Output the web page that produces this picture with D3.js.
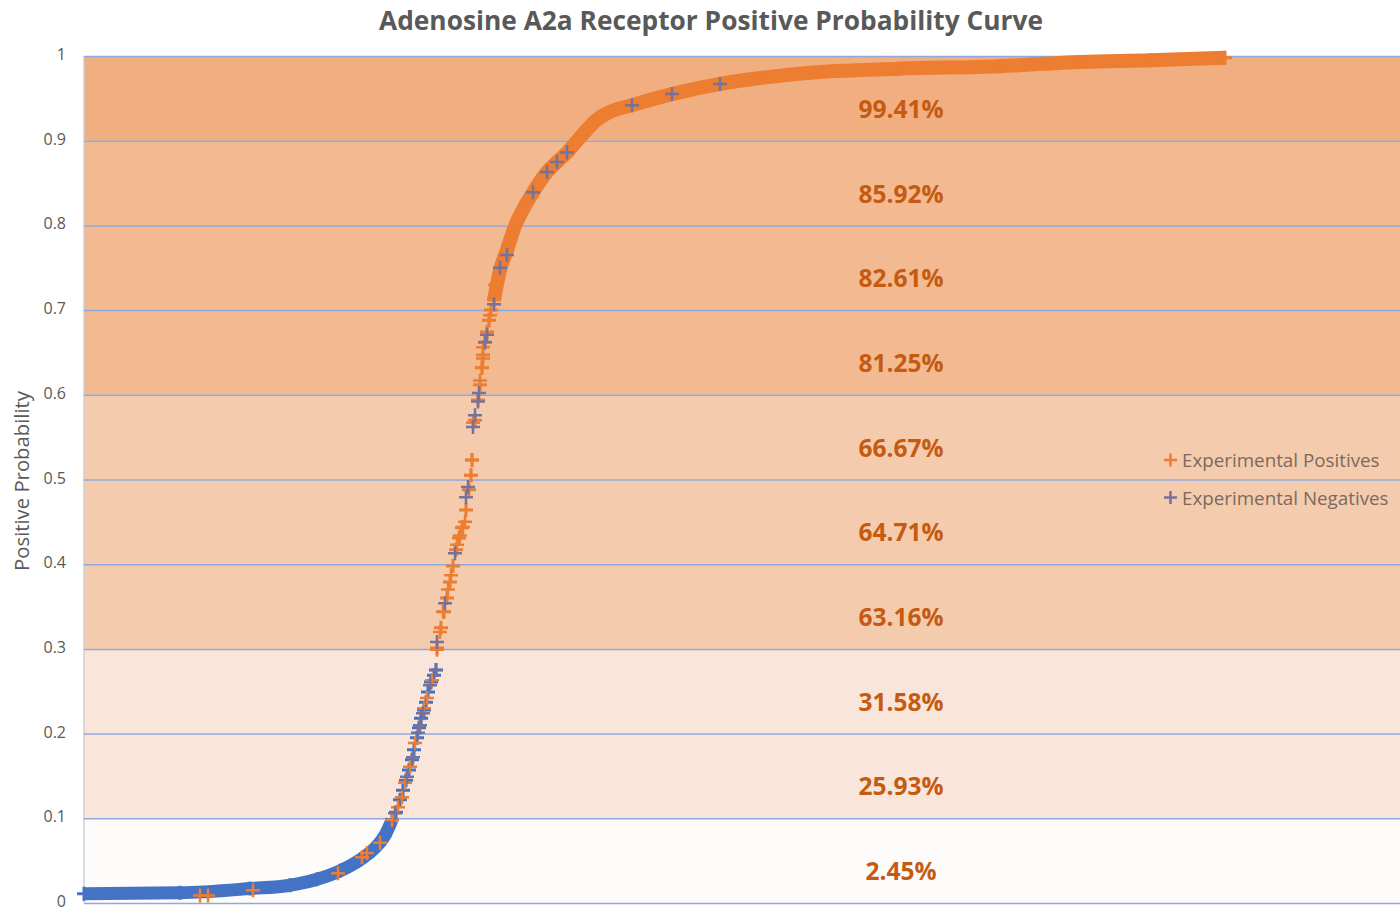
<!DOCTYPE html>
<html>
<head>
<meta charset="utf-8">
<script src="https://cdn.jsdelivr.net/npm/d3@7"></script>
<style>
  html, body { margin: 0; padding: 0; background: #ffffff; }
  svg { display: block; }
</style>
</head>
<body>
<svg id="chart" width="1400" height="911"></svg>
<script>
// ---------------- DATA ----------------
const chartTitle = "Adenosine A2a Receptor Positive Probability Curve";
const yAxisTitle = "Positive Probability";
const yTickValues = [0, 0.1, 0.2, 0.3, 0.4, 0.5, 0.6, 0.7, 0.8, 0.9, 1];
const yTickLabels = ["0", "0.1", "0.2", "0.3", "0.4", "0.5", "0.6", "0.7", "0.8", "0.9", "1"];

// probability bands (lower bound, upper bound) and their hit-rate labels
const bandLower = [0, 0.1, 0.2, 0.3, 0.4, 0.5, 0.6, 0.7, 0.8, 0.9];
const bandUpper = [0.1, 0.2, 0.3, 0.4, 0.5, 0.6, 0.7, 0.8, 0.9, 1];
const bandLabels = ["2.45%", "25.93%", "31.58%", "63.16%", "64.71%", "66.67%", "81.25%", "82.61%", "85.92%", "99.41%"];

// all compounds, ranked — low-probability part (dense, blue)
const lowDenseRank = [0, 96, 166, 206, 233, 256, 276, 291, 301, 308];
const lowDenseProb = [0.011, 0.012, 0.017, 0.021, 0.028, 0.038, 0.051, 0.065, 0.080, 0.098];
// low-probability part, individual compounds
const lowSparseRank = [312, 316, 319, 322, 325, 328, 330, 333, 335, 337, 340, 342, 344, 347, 350, 352];
const lowSparseProb = [0.107, 0.122, 0.133, 0.145, 0.157, 0.169, 0.181, 0.195, 0.207, 0.218, 0.228, 0.237, 0.249, 0.261, 0.269, 0.275];

// high-probability part, individual compounds (orange)
const highSparseRank = [353, 357, 360, 363, 366, 369, 372, 375, 378, 382, 385, 387, 388, 391, 394, 396, 398, 399, 401, 403, 405, 407];
const highSparseProb = [0.301, 0.325, 0.344, 0.360, 0.379, 0.398, 0.417, 0.431, 0.443, 0.464, 0.488, 0.505, 0.523, 0.570, 0.594, 0.612, 0.632, 0.647, 0.662, 0.674, 0.688, 0.700];
// high-probability part (dense, orange)
const highDenseRank = [410, 416, 423, 431, 442, 449, 463, 473, 483, 491, 503, 511, 526, 548, 588, 636, 676, 723, 816, 916, 996, 1066, 1141];
const highDenseProb = [0.712, 0.747, 0.771, 0.799, 0.825, 0.839, 0.863, 0.875, 0.886, 0.897, 0.913, 0.923, 0.934, 0.942, 0.955, 0.967, 0.974, 0.980, 0.985, 0.988, 0.993, 0.995, 0.998];

// experimental positives
const posRank = [116, 124, 169, 254, 278, 283, 296, 308, 314, 318, 321, 326, 331, 340, 343, 348, 353, 356, 359, 364, 367, 373, 376, 379, 381, 387, 388, 389, 396, 398, 399, 399, 405, 406, 411, 424, 431];
const posProb = [0.009, 0.009, 0.015, 0.035, 0.054, 0.059, 0.071, 0.098, 0.113, 0.125, 0.142, 0.161, 0.189, 0.230, 0.242, 0.263, 0.299, 0.320, 0.344, 0.370, 0.387, 0.423, 0.434, 0.444, 0.450, 0.505, 0.523, 0.567, 0.617, 0.632, 0.643, 0.656, 0.688, 0.694, 0.730, 0.777, 0.799];

// experimental negatives
const negRank = [311, 323, 329, 334, 336, 339, 346, 352, 353, 361, 371, 382, 384, 389, 391, 394, 395, 401, 403, 410, 416, 423, 449, 463, 473, 483, 548, 588, 636];
const negProb = [0.106, 0.149, 0.172, 0.201, 0.210, 0.224, 0.257, 0.275, 0.308, 0.354, 0.413, 0.479, 0.491, 0.562, 0.576, 0.592, 0.602, 0.662, 0.671, 0.707, 0.750, 0.765, 0.839, 0.863, 0.875, 0.886, 0.942, 0.955, 0.967];

const legendLabels = ["Experimental Positives", "Experimental Negatives"];

// ---------------- STYLE ----------------
const bandColors = ["#FEFBFB", "#F9E5D9", "#F9E5D9", "#F5CBAE", "#F5CBAE", "#F5CBAE", "#F3B990", "#F3B990", "#F3B990", "#F1AE80"];
const COL_BLUE = "#4472C4";
const COL_ORANGE = "#ED7D31";
const COL_NEG = "#76729A";
const COL_GRID = "#8EA9DB";
const COL_TEXT = "#595959";
const COL_LABEL = "#C55A11";

const svg = d3.select("#chart");
const pLeft = 84, pRight = 1400, pTop = 56, pBottom = 903;

const x = d3.scaleLinear().domain([0, 1316]).range([pLeft, pRight]);
const y = d3.scaleLinear().domain([0, 1]).range([pBottom, pTop]);

// bands
svg.append("g").selectAll("rect")
  .data(bandLower.map((lo, i) => ({lo, hi: bandUpper[i], c: bandColors[i]})))
  .join("rect")
  .attr("x", pLeft).attr("width", pRight - pLeft)
  .attr("y", d => y(d.hi)).attr("height", d => y(d.lo) - y(d.hi))
  .attr("fill", d => d.c);

// left spine
svg.append("line").attr("x1", pLeft).attr("x2", pLeft).attr("y1", pTop).attr("y2", pBottom)
  .attr("stroke", "#D0CECE").attr("stroke-width", 1.5);

// gridlines
const yAxis = d3.axisLeft(y).tickValues(yTickValues)
  .tickFormat((d, i) => yTickLabels[i]).tickSize(-(pRight - pLeft)).tickPadding(18);
const gAxis = svg.append("g").attr("transform", `translate(${pLeft},0)`).call(yAxis);
gAxis.select(".domain").remove();
gAxis.selectAll(".tick line").attr("stroke", COL_GRID).attr("stroke-width", 1.5);
gAxis.selectAll(".tick text").attr("fill", COL_TEXT).attr("dy", "0.22em")
  .style("font-family", "'Open Sans', sans-serif").style("font-size", "16px");

// band labels
svg.append("g").selectAll("text")
  .data(bandLabels.map((t, i) => ({t, mid: (bandLower[i] + bandUpper[i]) / 2})))
  .join("text")
  .attr("x", 901).attr("y", d => y(d.mid) + 10)
  .attr("text-anchor", "middle").attr("dominant-baseline", "central")
  .attr("fill", COL_LABEL)
  .style("font-family", "'Open Sans', sans-serif").style("font-weight", "700").style("font-size", "24.5px")
  .text(d => d.t);

// plus marker
const S = 7;
function plus(g, ranks, probs, color, w) {
  g.selectAll(null).data(ranks.map((r, i) => [r, probs[i]])).join("path")
    .attr("d", d => {
      const cx = x(d[0]), cy = y(d[1]);
      return `M${cx - S},${cy}H${cx + S}M${cx},${cy - S}V${cy + S}`;
    })
    .attr("stroke", color).attr("stroke-width", w).attr("fill", "none");
}
const line = d3.line().x(d => x(d[0])).y(d => y(d[1])).curve(d3.curveMonotoneX);

const gData = svg.append("g");
// low (blue)
gData.append("path").datum(lowDenseRank.map((r, i) => [r, lowDenseProb[i]]))
  .attr("d", line).attr("fill", "none").attr("stroke", COL_BLUE).attr("stroke-width", 13)
  .attr("stroke-linecap", "butt");
plus(gData.append("g"), lowDenseRank, lowDenseProb, COL_BLUE, 3);
plus(gData.append("g"), lowSparseRank, lowSparseProb, COL_BLUE, 3);
// high (orange)
gData.append("path").datum(highDenseRank.map((r, i) => [r, highDenseProb[i]]))
  .attr("d", line).attr("fill", "none").attr("stroke", COL_ORANGE).attr("stroke-width", 14)
  .attr("stroke-linecap", "butt");
plus(gData.append("g"), highDenseRank, highDenseProb, COL_ORANGE, 3);
plus(gData.append("g"), highSparseRank, highSparseProb, COL_ORANGE, 3);
// experimental
plus(gData.append("g"), posRank, posProb, COL_ORANGE, 2.5);
plus(gData.append("g"), negRank, negProb, COL_NEG, 2.5);

// title
svg.append("text").attr("x", 711).attr("y", 20)
  .attr("text-anchor", "middle").attr("dominant-baseline", "central")
  .attr("fill", COL_TEXT)
  .style("font-family", "'Open Sans', sans-serif").style("font-weight", "700").style("font-size", "26.3px")
  .text(chartTitle);

// y axis title
svg.append("text").attr("transform", "translate(21,481) rotate(-90)")
  .attr("text-anchor", "middle").attr("dominant-baseline", "central")
  .attr("fill", COL_TEXT)
  .style("font-family", "'Open Sans', sans-serif").style("font-size", "20.3px")
  .text(yAxisTitle);

// legend
const legColors = [COL_ORANGE, COL_NEG];
const gLeg = svg.append("g");
legendLabels.forEach((t, i) => {
  const ly = 460 + i * 37.5;
  gLeg.append("path").attr("d", `M${1164},${ly}H${1177}M${1170.5},${ly - 6.5}V${ly + 6.5}`)
    .attr("stroke", legColors[i]).attr("stroke-width", 2.5);
  gLeg.append("text").attr("x", 1182).attr("y", ly).attr("dominant-baseline", "central")
    .attr("fill", "#7A6A5E")
    .style("font-family", "'Open Sans', sans-serif").style("font-size", "18.8px")
    .text(t);
});
</script>
</body>
</html>
